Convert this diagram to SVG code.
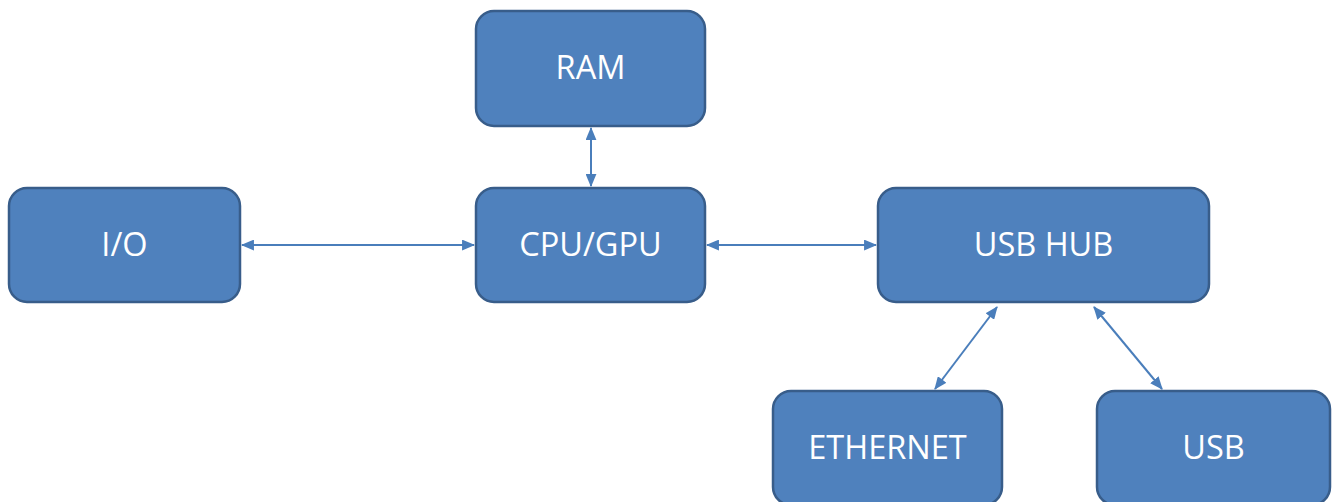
<svg xmlns="http://www.w3.org/2000/svg" width="1332" height="502" viewBox="0 0 1332 502">
<style>
.box{fill:#4F81BD;stroke:#385D8A;stroke-width:2.5}
.lbl{fill:#FFFFFF;font-family:"Open Sans","Liberation Sans",sans-serif;font-size:32.5px;text-anchor:middle;dominant-baseline:central}
.conn{stroke:#4A7EBB;stroke-width:2;fill:none;marker-start:url(#ah);marker-end:url(#ah)}
</style>
<defs>
<marker id="ah" viewBox="0 0 12 10" refX="11" refY="5" markerWidth="6.5" markerHeight="5.5" orient="auto-start-reverse" markerUnits="strokeWidth">
<path d="M0,0 L12,5 L0,10 Z" fill="#4A7EBB"/>
</marker>
</defs>
<rect width="1332" height="502" fill="#FFFFFF"/>
<g id="connectors">
<line class="conn" x1="591" y1="128" x2="591" y2="186"/>
<line class="conn" x1="242" y1="245" x2="474" y2="245"/>
<line class="conn" x1="707" y1="245" x2="876" y2="245"/>
<line class="conn" x1="997" y1="307" x2="935" y2="389"/>
<line class="conn" x1="1094" y1="307" x2="1162" y2="389"/>
</g>
<g id="ram"><rect class="box" x="476" y="11" width="229" height="115" rx="18"/><text class="lbl" x="590.5" y="66">RAM</text></g>
<g id="io"><rect class="box" x="9" y="188" width="231" height="114" rx="18"/><text class="lbl" x="124.5" y="243">I/O</text></g>
<g id="cpu"><rect class="box" x="476" y="188" width="229" height="114" rx="18"/><text class="lbl" x="590.5" y="243">CPU/GPU</text></g>
<g id="usbhub"><rect class="box" x="878" y="188" width="331" height="114" rx="18"/><text class="lbl" x="1043.5" y="243">USB HUB</text></g>
<g id="ethernet"><rect class="box" x="773" y="391" width="229" height="114" rx="18"/><text class="lbl" x="887.5" y="446">ETHERNET</text></g>
<g id="usb"><rect class="box" x="1097" y="391" width="233" height="114" rx="18"/><text class="lbl" x="1213.5" y="446">USB</text></g>
</svg>
